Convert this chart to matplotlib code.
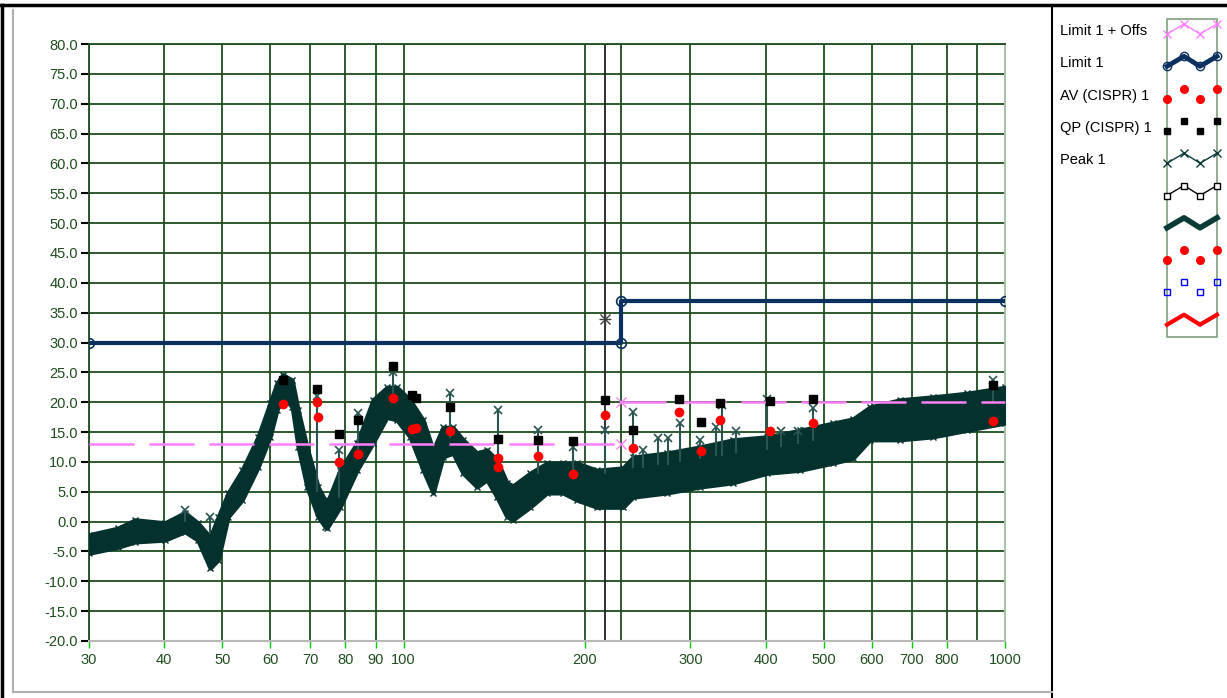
import numpy as np
import matplotlib.pyplot as plt
from matplotlib.ticker import FixedLocator, NullLocator

plt.rcParams['font.family'] = ['Liberation Sans Narrow', 'Liberation Sans', 'DejaVu Sans']

# --- data ---
# limits (MHz, dBuV)
lim_f = [30, 230, 230, 1000]
lim_v = [30.0, 30.0, 37.0, 37.0]
offs_f1 = [30, 230]
offs_v1 = [13.0, 13.0]
offs_f2 = [230, 1000]
offs_v2 = [20.0, 20.0]

# peak trace envelope
band_f = [30, 33.5, 35.8, 40.1, 43.3, 45.5, 47.7, 49.2, 51.1, 53.9, 57.3, 60.0, 61.6, 63.0,
          65.3, 66.8, 69.1, 72.1, 74.1, 74.6, 78.4, 83.7, 89.0, 93.9, 97.5, 102.5, 107.8,
          112.0, 116.3, 120.8, 125.6, 132.5, 137.6, 143.0, 148.6, 152.1, 162.3, 173.2,
          184.1, 194.3, 209.7, 231.7, 240.8, 274.2, 311.1, 353.1, 402.0, 456.3, 517.8,
          558.9, 596.4, 669.0, 759.3, 864.9, 1000]
band_hi = [-2.2, -1.1, 0.3, -0.2, 1.5, -0.2, -2.6, 0.8, 4.8, 8.6, 14.2, 19.9, 23.2, 24.6,
           23.7, 18.7, 12.5, 5.8, 3.6, 3.1, 8.6, 13.2, 20.4, 22.5, 22.5, 20.4, 17.0,
           12.0, 15.8, 15.8, 13.7, 11.5, 12.0, 10.3, 6.5, 6.0, 8.1, 9.8,
           9.8, 9.8, 8.6, 9.0, 10.8, 11.5, 12.5, 13.7, 14.2, 15.3, 16.5,
           17.2, 19.2, 20.4, 20.9, 21.5, 22.5]
band_lo = [-5.3, -4.3, -3.4, -3.1, -1.7, -3.1, -7.8, -6.4, 0.8, 3.6, 9.1, 14.2, 18.7, 20.9,
           19.2, 12.5, 5.8, 0.8, -0.9, -1.1, 2.4, 8.6, 13.2, 17.5, 17.0, 14.2, 8.6,
           4.8, 10.8, 11.5, 8.1, 5.8, 7.0, 4.1, 0.8, 0.3, 2.4, 4.8,
           4.8, 3.6, 2.4, 2.4, 4.1, 4.8, 5.8, 6.5, 8.1, 8.6, 9.8,
           10.6, 13.7, 13.7, 14.2, 15.3, 16.5]

# peak spikes: frequency, base, top
spike_f = [43.3, 47.7, 71.8, 78.1, 84.0, 96.1, 119.4, 143.6, 167.4, 191.6, 216.3, 240.8,
           250, 265, 275, 288, 311, 331, 338, 357, 402, 425, 452, 480, 955]
spike_lo = [0.0, -2.0, 5.0, 4.0, 12.0, 21.0, 14.0, 9.0, 8.0, 8.0, 8.0, 9.0,
            9.0, 9.5, 9.5, 10.0, 10.5, 11.0, 11.0, 11.5, 12.0, 12.5, 13.0, 13.5, 20.0]
spike_hi = [2.0, 0.8, 21.0, 12.0, 18.2, 25.0, 21.6, 18.7, 15.3, 12.5, 15.3, 18.4,
            12.0, 14.0, 14.0, 16.5, 13.7, 15.8, 19.5, 15.2, 20.5, 15.2, 15.2, 19.0, 23.7]

# quasi-peak and average
qp_f = [63.0, 71.8, 78.1, 84.0, 96.1, 103.3, 105.0, 119.4, 143.6, 167.4, 191.6, 216.3,
        240.8, 287, 312, 336, 407, 480, 955]
qp_v = [23.7, 22.2, 14.7, 17.0, 26.1, 21.2, 20.7, 19.2, 13.8, 13.7, 13.5, 20.4,
        15.3, 20.5, 16.7, 19.9, 20.2, 20.5, 22.9]
av_f = [63.0, 71.8, 72.0, 78.1, 84.0, 96.1, 103.3, 105.0, 119.4, 143.6, 143.8, 167.4,
        191.6, 216.3, 240.8, 287, 312, 336, 407, 480, 955]
av_v = [19.7, 20.1, 17.5, 10.0, 11.3, 20.7, 15.5, 15.7, 15.2, 10.7, 9.2, 11.0,
        8.0, 17.8, 12.3, 18.4, 11.8, 17.0, 15.2, 16.5, 16.9]

cursor_f = 216.3
cursor_v = 34.0

x_ticks = [30, 40, 50, 60, 70, 80, 90, 100, 200, 300, 400, 500, 600, 700, 800, 1000]
x_grid = [30, 40, 50, 60, 70, 80, 90, 100, 200, 230, 300, 400, 500, 600, 700, 800, 900, 1000]
y_ticks = np.arange(-20, 81, 5)

legend_names = ['Limit 1 + Offs', 'Limit 1', 'AV (CISPR) 1', 'QP (CISPR) 1', 'Peak 1']

W, H = 1227, 698
fig = plt.figure(figsize=(W / 100, H / 100), dpi=100)

# background: frames and legend panel in pixel coordinates
bg = fig.add_axes([0, 0, 1, 1], zorder=0)
bg.set_xlim(0, W)
bg.set_ylim(H, 0)
bg.axis('off')
bg.plot([0, W], [5, 5], color='black', lw=2.5)
bg.plot([2, 2], [5, H], color='black', lw=2.5)
bg.plot([1052, 1052], [5, H], color='black', lw=1.5)
bg.plot([13, 13], [10, 692], color='#b0b0b0', lw=1.5)
bg.plot([13, 1052], [692, 692], color='#b0b0b0', lw=1.5)

for i, name in enumerate(legend_names):
    bg.text(1060, 31 + 32.3 * i, name, fontsize=10.5, va='center', ha='left', color='black')

bg.add_patch(plt.Rectangle((1167, 19), 50, 318, fill=False, edgecolor='#7f9f7f', lw=1.2))
zx = np.array([1167, 1184, 1200, 1217])
zy = np.array([5, -5, 5, -5])
rows = [
    dict(color='#ff80ff', lw=1, marker='x', ms=6, mfc='none'),
    dict(color='#0a3060', lw=3.5, marker='o', ms=6, mfc='none'),
    dict(color='red', lw=0, marker='o', ms=5.5),
    dict(color='black', lw=0, marker='s', ms=5),
    dict(color='#0a3a36', lw=1, marker='x', ms=6),
    dict(color='black', lw=1, marker='s', ms=5, mfc='white'),
    dict(color='#0a3a36', lw=4, marker=None),
    dict(color='red', lw=0, marker='o', ms=5.5),
    dict(color='blue', lw=0, marker='s', ms=5, mfc='none'),
    dict(color='red', lw=3, marker=None),
]
for i, st in enumerate(rows):
    c = 29 + 32.3 * i
    bg.plot(zx, c + zy, clip_on=False, **st)

# main plot
ax = fig.add_axes([89 / W, 1 - 641 / H, 916 / W, 597 / H], zorder=1)
ax.set_xscale('log')
ax.set_xlim(30, 1000)
ax.set_ylim(-20, 80)

grid_c = '#1e4d1e'
for g in x_grid:
    ax.axvline(g, color=grid_c, lw=1.3, zorder=1)
for g in y_ticks:
    ax.axhline(g, color=grid_c, lw=1.3, zorder=1)
ax.axvline(cursor_f, color='#202020', lw=1.3, zorder=2)

trace_c = '#03322e'
ax.fill_between(band_f, band_lo, band_hi, color=trace_c, lw=3, edgecolor=trace_c, zorder=3)
ax.plot(band_f, band_hi, 'x', color=trace_c, ms=4, mew=1, zorder=3)
ax.plot(band_f, band_lo, 'x', color=trace_c, ms=4, mew=1, zorder=3)
ax.vlines(spike_f, spike_lo, spike_hi, color='#2a5450', lw=1.5, zorder=3)
ax.plot(spike_f, spike_hi, 'x', color='#2a5450', ms=6, mew=1.2, zorder=3)

ax.plot(offs_f1, offs_v1, color='#ff80ff', lw=1.8, dashes=(18, 6), zorder=4)
ax.plot(offs_f2, offs_v2, color='#ff80ff', lw=1.8, dashes=(18, 6), zorder=4)
ax.plot([230, 230], [13, 20], 'x', color='#ff80ff', ms=7, zorder=4)
ax.plot([30], [13], marker=0, color='#ff80ff', ms=7, zorder=4)
ax.plot([1000], [20], marker=1, color='#ff80ff', ms=7, zorder=4)

ax.plot(lim_f, lim_v, color='#0a3060', lw=3, zorder=5)
ax.plot(lim_f, lim_v, 'o', color='#0a3060', mfc='none', ms=7, mew=1.2, zorder=5)

ax.plot(qp_f, qp_v, 's', color='black', ms=6, zorder=6)
ax.plot(av_f, av_v, 'o', color='red', ms=6, zorder=7)

ax.plot([cursor_f], [cursor_v], 'x', color='#404040', ms=7, mew=1, zorder=8)
ax.plot([cursor_f], [cursor_v], '+', color='#404040', ms=9, mew=1, zorder=8)

ax.xaxis.set_major_locator(FixedLocator(x_ticks))
ax.xaxis.set_minor_locator(NullLocator())
ax.set_xticklabels([str(t) for t in x_ticks])
ax.set_yticks(y_ticks)
ax.set_yticklabels(['%.1f' % v for v in y_ticks])
ax.tick_params(axis='y', length=6, width=1.5, color='black', labelsize=10.5,
               labelcolor='#1e4d1e', pad=2)
ax.tick_params(axis='x', length=5, width=1, color='#00cc00', labelsize=10.5,
               labelcolor='#1e4d1e', pad=4)

for side in ['top', 'left']:
    ax.spines[side].set_color(grid_c)
    ax.spines[side].set_linewidth(1.3)
ax.spines['bottom'].set_color('#b8b8b8')
ax.spines['bottom'].set_linewidth(1.5)
ax.spines['right'].set_color('#a8c4a8')
ax.spines['right'].set_linewidth(1.5)

fig.savefig('out.png', dpi=100)
